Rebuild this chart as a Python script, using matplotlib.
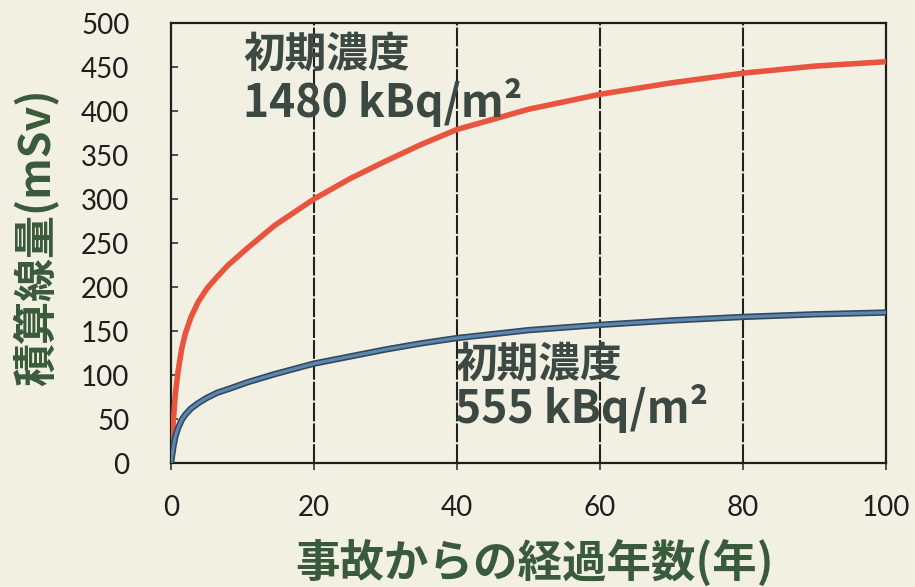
import matplotlib.pyplot as plt

# Data
years = [0, 0.3, 0.6, 1.0, 1.5, 2.0, 2.8, 3.8, 5.0, 6.5, 8.0, 10.8, 14.5, 20,
         25, 30, 35, 40, 50, 60, 70, 80, 90, 100]
dose_1480 = [0, 45, 78, 105, 130, 147, 166, 183, 198, 212, 225, 245, 270, 300,
             323, 343, 362, 379, 402, 419, 432, 443, 451, 456]
dose_555 = [0, 17, 30, 40, 49, 55, 62, 68, 74, 80, 84, 92, 101, 113,
            121, 129, 136, 142, 151, 157, 162, 166, 169, 171]

x_ticks = [0, 20, 40, 60, 80, 100]
y_ticks = [0, 50, 100, 150, 200, 250, 300, 350, 400, 450, 500]

bg = "#F1F0E3"
green = "#3A5A3C"
dark = "#3C4842"
cjk = ["Noto Sans CJK JP", "DejaVu Sans"]

fig = plt.figure(figsize=(9.15, 5.87), dpi=100, facecolor=bg)
ax = fig.add_axes([0.1869, 0.2112, 0.7814, 0.7496])
ax.set_facecolor(bg)

# vertical grid lines
for xv in x_ticks[1:-1]:
    ax.axvline(xv, color="#222222", lw=1.5, ls=(0, (9, 1)), zorder=1)

# curves
ax.plot(years, dose_1480, color="#E9543F", lw=4.0, solid_capstyle="round", zorder=3)
ax.plot(years, dose_555, color="#34495F", lw=4.6, solid_capstyle="round", zorder=3)
ax.plot(years, dose_555, color="#5B88B0", lw=2.2, solid_capstyle="round", zorder=4)

ax.set_xlim(0, 100)
ax.set_ylim(0, 500)
ax.set_xticks(x_ticks)
ax.set_yticks(y_ticks)

for s in ax.spines.values():
    s.set_color("#1E1E1E")
    s.set_linewidth(1.6)

ax.tick_params(axis="y", direction="in", length=5, width=1.2, color="#333333",
               pad=30, labelsize=20, labelcolor="#1E1E1E")
ax.tick_params(axis="x", direction="out", length=5, width=1.2, color="#333333",
               pad=18, labelsize=20, labelcolor="#1E1E1E")
for lab in ax.get_xticklabels() + ax.get_yticklabels():
    lab.set_family(["Lato", "DejaVu Sans"])

# annotations
ax.text(10.1, 450, "初期濃度", family=cjk, fontsize=30, fontweight="bold",
        color=dark, va="baseline", ha="left")
ax.text(10.1, 393, "1480 kBq/m²", family=cjk, fontsize=32, fontweight="bold",
        color=dark, va="baseline", ha="left")
ax.text(39.7, 98, "初期濃度", family=cjk, fontsize=30, fontweight="bold",
        color=dark, va="baseline", ha="left")
ax.text(39.7, 46, "555 kBq/m²", family=cjk, fontsize=32, fontweight="bold",
        color=dark, va="baseline", ha="left")

# axis labels
fig.text(0.039, 0.596, "積算線量(mSv)", family=cjk, fontsize=31, fontweight="bold",
         color=green, rotation=90, ha="center", va="center")
fig.text(0.584, 0.04, "事故からの経過年数(年)", family=cjk, fontsize=32,
         fontweight="bold", color=green, ha="center", va="center")

fig.savefig("out.png", dpi=100, facecolor=bg)
